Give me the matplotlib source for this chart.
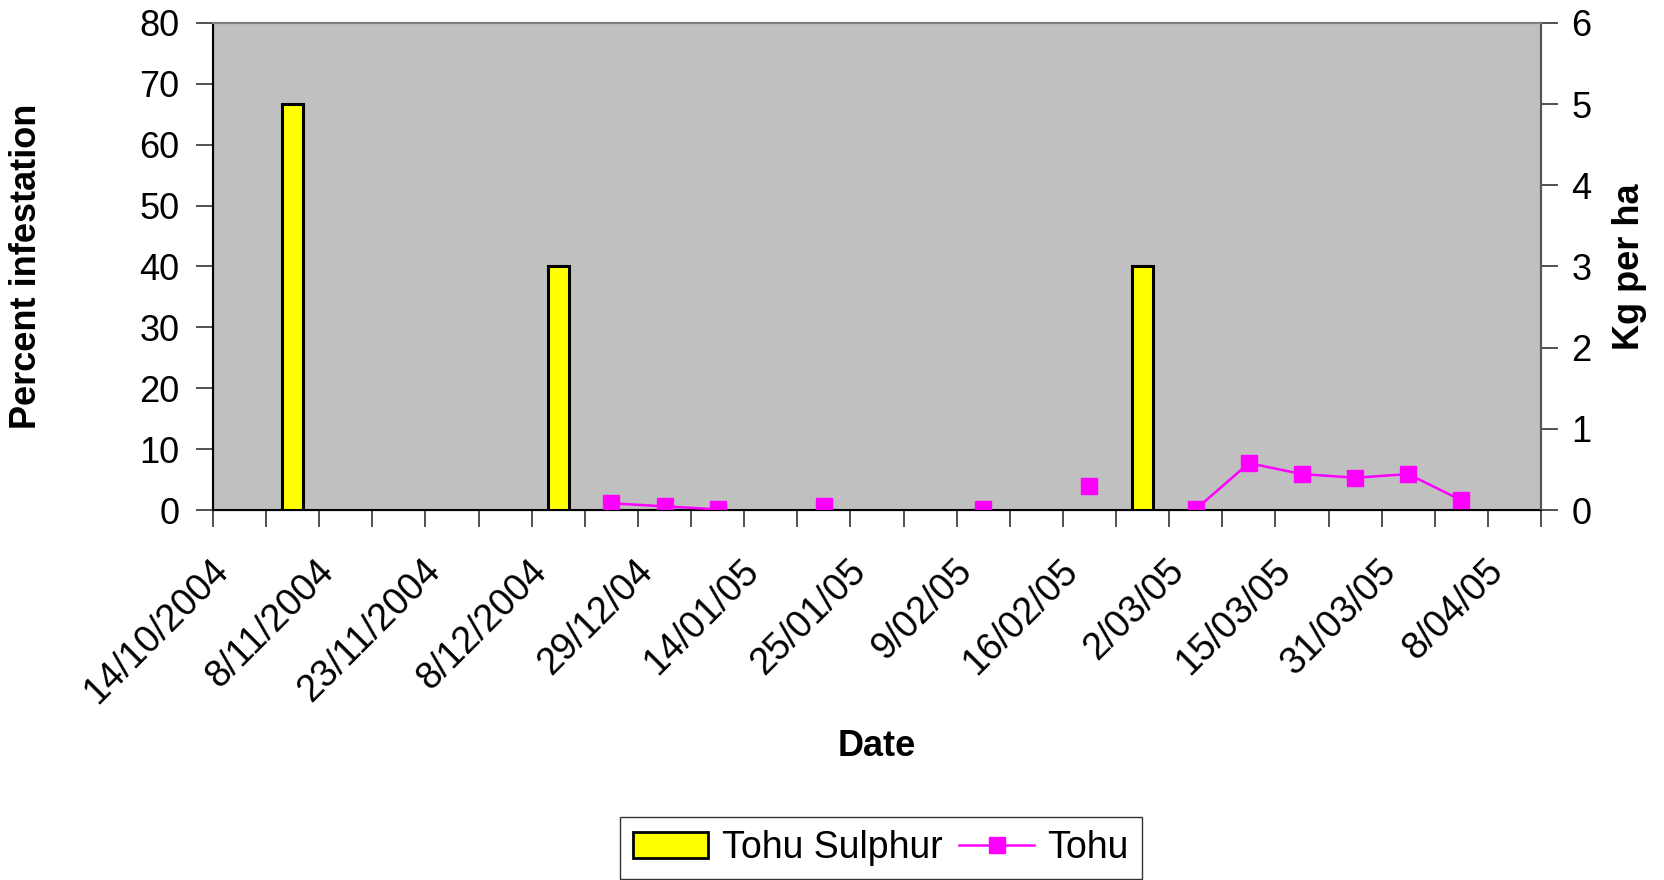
import numpy as np
import matplotlib
matplotlib.use("Agg")
import matplotlib.pyplot as plt
from matplotlib.patches import Patch
from matplotlib.lines import Line2D
from matplotlib.transforms import ScaledTranslation

plt.rcParams['font.family'] = ['Liberation Sans', 'DejaVu Sans']

# 25 category slots, labels on every other one
date_labels = ["14/10/2004", "8/11/2004", "23/11/2004", "8/12/2004", "29/12/04",
               "14/01/05", "25/01/05", "9/02/05", "16/02/05", "2/03/05",
               "15/03/05", "31/03/05", "8/04/05"]
n_slots = 25

# Tohu Sulphur (kg per ha, right axis)
sulphur_slots = [1, 6, 17]
sulphur_kg = [5, 3, 3]

# Tohu percent infestation (left axis), NaN = no reading
tohu_pct = [np.nan, np.nan, np.nan, np.nan, np.nan, np.nan, np.nan,
            1.1, 0.6, 0.1, np.nan, 0.6, np.nan, np.nan, 0.1, np.nan, 3.9,
            np.nan, 0.1, 7.7, 5.9, 5.3, 5.9, 1.6, np.nan]

fs = 26

fig = plt.figure(figsize=(16.64, 8.8), dpi=100)
ax = fig.add_axes([213/1664, 1 - 510/880, 1328/1664, 487/880])
ax2 = ax.twinx()

ax.set_facecolor('#C0C0C0')
ax2.patch.set_visible(False)

x = np.arange(n_slots)
ax.plot(x, tohu_pct, color='#FF00FF', lw=1.8, marker='s', ms=12, zorder=3)
ax2.bar(sulphur_slots, sulphur_kg, width=0.4, color='#FFFF00',
        edgecolor='black', linewidth=2.2, zorder=3)

ax.set_xlim(-0.5, n_slots - 0.5)
ax.set_ylim(0, 80)
ax2.set_ylim(0, 6)
ax.set_yticks(np.arange(0, 81, 10))
ax2.set_yticks(np.arange(0, 7, 1))

# boundaries carry the tick marks, centres carry the labels
ax.set_xticks(np.arange(-0.5, n_slots, 1))
ax.set_xticklabels([])
ax.set_xticks(np.arange(0, n_slots, 2), minor=True)
ax.set_xticklabels(date_labels, minor=True, rotation=45, ha='right',
                   va='center', rotation_mode='anchor', fontsize=27)
ax.tick_params(axis='x', which='major', length=12, width=1.2, color='#333333')
ax.tick_params(axis='x', which='minor', length=0, pad=40)
ax.tick_params(axis='y', length=12, width=1.2, labelsize=fs, pad=12,
               color='#333333')
ax2.tick_params(axis='y', length=12, width=1.2, labelsize=fs, pad=10,
                color='#333333')
# nudge the rotated date labels left, like Excel places them
shift = ScaledTranslation(-17/100, 0, fig.dpi_scale_trans)
for lbl in ax.get_xticklabels(minor=True):
    lbl.set_transform(lbl.get_transform() + shift)

for sp in ['left', 'bottom']:
    ax.spines[sp].set_color('black')
    ax.spines[sp].set_linewidth(1.5)
for a in (ax, ax2):
    a.spines['top'].set_color('#808080')
    a.spines['top'].set_linewidth(1.5)
    a.spines['right'].set_color('#555555')
    a.spines['right'].set_linewidth(1.5)

ax.set_ylabel("Percent infestation", fontsize=fs, fontweight='bold')
ax.yaxis.set_label_coords(-0.127, 0.5)
ax2.set_ylabel("Kg per ha", fontsize=fs, fontweight='bold')
ax2.yaxis.set_label_coords(1.0535, 0.5)
ax.set_xlabel("Date", fontsize=fs, fontweight='bold')
ax.xaxis.set_label_coords(0.5, -0.45)

handles = [Patch(facecolor='#FFFF00', edgecolor='black', linewidth=2),
           Line2D([], [], color='#FF00FF', lw=1.8, marker='s', ms=12)]
leg = fig.legend(handles, ["Tohu Sulphur", "Tohu"], loc='upper center',
                 bbox_to_anchor=(881/1664, 1 - 817/880), ncol=2, fontsize=27,
                 frameon=True, fancybox=False, handlelength=2.0,
                 handletextpad=0.35, columnspacing=0.45, borderpad=0.35,
                 borderaxespad=0)
leg.get_frame().set_edgecolor('black')
leg.get_frame().set_linewidth(1.0)

fig.savefig("out.png", dpi=100)
